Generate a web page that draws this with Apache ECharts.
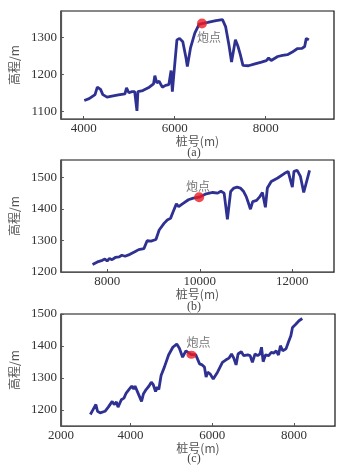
<!DOCTYPE html>
<html>
<head>
<meta charset="utf-8">
<script src="https://cdn.jsdelivr.net/npm/echarts@6/dist/echarts.min.js"></script>
<style>
  html, body { margin: 0; padding: 0; background: #fff; }
  #chart { width: 353px; height: 476px; }
</style>
</head>
<body>
<div id="chart"></div>
<script>
// (a) 桩号 / 高程
const stationA = [4014, 4121, 4250, 4300, 4371, 4421, 4514, 4621, 4764, 4907, 4942, 4992, 5064, 5121, 5171, 5192,
  5299, 5442, 5535, 5564, 5607, 5657, 5728, 5799, 5871, 5921, 5949, 5978, 6049, 6106, 6178, 6249, 6278, 6349,
  6442, 6535, 6599, 6728, 6906, 7049, 7120, 7192, 7249, 7334, 7392, 7442, 7499, 7620, 7763, 7906, 8013, 8063,
  8120, 8263, 8370, 8477, 8584, 8691, 8798, 8855, 8891, 8948];
const elevA = [1130, 1135, 1146, 1166, 1160, 1146, 1139, 1142, 1145, 1148, 1164, 1151, 1154, 1154, 1102, 1154,
  1157, 1166, 1175, 1197, 1178, 1182, 1166, 1171, 1173, 1211, 1154, 1196, 1294, 1298, 1289, 1245, 1222, 1273,
  1312, 1336, 1338, 1341, 1346, 1349, 1329, 1280, 1234, 1294, 1276, 1254, 1225, 1224, 1229, 1234, 1238, 1245,
  1238, 1249, 1252, 1254, 1261, 1270, 1271, 1276, 1298, 1294];
const shotA = [6599, 1338];

// (b)
const stationB = [7684, 7789, 7895, 7951, 8000, 8049, 8105, 8175, 8260, 8316, 8386, 8491, 8597, 8681, 8793, 8863,
  8947, 9053, 9123, 9228, 9298, 9368, 9425, 9495, 9544, 9649, 9755, 9860, 9986, 10140, 10281, 10386, 10456,
  10526, 10597, 10667, 10737, 10807, 10877, 10948, 11004, 11053, 11095, 11144, 11228, 11298, 11354, 11418,
  11460, 11544, 11684, 11825, 11909, 11951, 12000, 12035, 12105, 12175, 12246, 12372];
const elevB = [1224, 1232, 1237, 1241, 1235, 1243, 1239, 1246, 1248, 1253, 1250, 1256, 1264, 1271, 1274, 1299,
  1298, 1303, 1333, 1354, 1365, 1370, 1391, 1416, 1407, 1418, 1429, 1434, 1437, 1448, 1452, 1450, 1456,
  1450, 1367, 1455, 1466, 1469, 1466, 1455, 1439, 1418, 1399, 1423, 1427, 1439, 1452, 1405,
  1466, 1487, 1498, 1512, 1519, 1514, 1469, 1519, 1522, 1503, 1452, 1522];
const shotB = [9986, 1437];

// (c)
const stationC = [3020, 3076, 3123, 3155, 3195, 3259, 3378, 3458, 3554, 3602, 3657, 3697, 3777, 3841, 3896, 3976,
  4032, 4080, 4112, 4175, 4215, 4271, 4319, 4383, 4454, 4510, 4558, 4614, 4654, 4693, 4749, 4829, 4932, 5036,
  5132, 5196, 5275, 5355, 5490, 5594, 5690, 5753, 5809, 5849, 5889, 5945, 6024, 6128, 6248, 6327, 6407, 6471,
  6526, 6582, 6630, 6710, 6766, 6805, 6869, 6925, 6981, 7045, 7108, 7164, 7204, 7244, 7300, 7379, 7443, 7507,
  7563, 7618, 7666, 7722, 7802, 7865, 7921, 7961, 8041, 8120, 8200];
const elevC = [1186, 1199, 1194, 1217, 1196, 1191, 1196, 1209, 1227, 1217, 1225, 1209, 1232, 1237, 1253, 1266,
  1275, 1266, 1275, 1256, 1258, 1227, 1251, 1264, 1275, 1287, 1279, 1258, 1272, 1264, 1308, 1334, 1372, 1396,
  1406, 1393, 1365, 1385, 1373, 1373, 1344, 1341, 1334, 1303, 1318, 1313, 1297, 1318, 1349, 1356, 1362, 1375,
  1362, 1341, 1375, 1382, 1370, 1375, 1372, 1370, 1349, 1375, 1370, 1375, 1396, 1351, 1372, 1370, 1380, 1378,
  1385, 1372, 1401, 1385, 1391, 1413, 1432, 1458, 1468, 1479, 1486];
const shotC = [5490, 1373];

const xTicksA = [4000, 6000, 8000];
const yTicksA = [1100, 1200, 1300];
const xTicksB = [8000, 10000, 12000];
const yTicksB = [1200, 1300, 1400, 1500];
const xTicksC = [4000, 6000, 8000];
const yTicksC = [1200, 1300, 1400, 1500];
const captions = ['(a)', '(b)', '(c)'];
const shotName = '炮点';
const xName = '桩号(m)';
const yName = '高程/m';

const chart = echarts.init(document.getElementById('chart'), null, { renderer: 'canvas' });

const lineColor = '#2e3192';
const numFont = { fontFamily: 'Liberation Serif', fontSize: 13, color: '#333' };
const cjkFont = { fontFamily: 'Noto Sans CJK SC', fontSize: 12, color: '#555' };

const grids = [
  { left: 54, top: 11, width: 280, height: 108 },
  { left: 54, top: 160, width: 280, height: 112 },
  { left: 55, top: 314, width: 280, height: 112 }
];

function xAxisOf(i, min, max, ticks, labels) {
  return {
    type: 'value', gridIndex: i, min: min, max: max,
    name: xName, nameLocation: 'middle', nameGap: 14,
    nameTextStyle: cjkFont,
    axisLine: { lineStyle: { color: '#555', width: 1.2 } },
    axisTick: { inside: true, length: 3, customValues: ticks, lineStyle: { color: '#555' } },
    axisLabel: Object.assign({ margin: 3, customValues: labels || ticks, formatter: v => String(v) }, numFont),
    splitLine: { show: false }
  };
}

function yAxisOf(i, min, max, ticks) {
  return {
    type: 'value', gridIndex: i, min: min, max: max,
    name: yName, nameLocation: 'middle', nameGap: 31, nameRotate: 90,
    nameTextStyle: cjkFont,
    axisLine: { show: true, lineStyle: { color: '#555', width: 1.2 } },
    axisTick: { show: true, inside: true, length: 3, customValues: ticks, lineStyle: { color: '#555' } },
    axisLabel: Object.assign({ margin: 4, customValues: ticks, formatter: v => String(v) }, numFont),
    splitLine: { show: false }
  };
}

function zip(xs, ys) {
  return xs.map((x, k) => [x, ys[k]]);
}

const xC = xAxisOf(2, 2300, 9000, xTicksC, [2300].concat(xTicksC));
// the leftmost label of (c) is printed as 2000 at the frame edge
xC.axisLabel.formatter = v => (v < 3000 ? '2000' : String(v));

const lines = [zip(stationA, elevA), zip(stationB, elevB), zip(stationC, elevC)];
const shots = [shotA, shotB, shotC];
const shotOffsets = [[7, 14], [-1, -11], [7, -12]];
const shotSizes = [10, 10, [10, 8]];

const series = [];
lines.forEach((d, i) => {
  series.push({
    type: 'line', xAxisIndex: i, yAxisIndex: i, data: d,
    showSymbol: false, lineStyle: { color: lineColor, width: 2.8 }, z: 2
  });
});
shots.forEach((p, i) => {
  series.push({
    type: 'scatter', xAxisIndex: i, yAxisIndex: i, data: [p],
    symbol: 'circle', symbolSize: shotSizes[i],
    itemStyle: { color: '#ec1c24' }, z: 3,
    label: Object.assign({ show: true, position: 'inside', offset: shotOffsets[i], formatter: shotName }, cjkFont)
  });
});

const captionY = [153, 307, 459];
const option = {
  animation: false,
  backgroundColor: '#fff',
  grid: grids.map(g => Object.assign({ show: true, borderColor: '#111', borderWidth: 1.2 }, g)),
  xAxis: [
    xAxisOf(0, 3500, 9500, xTicksA),
    xAxisOf(1, 7000, 12900, xTicksB),
    xC
  ],
  yAxis: [
    yAxisOf(0, 1080, 1372, yTicksA),
    yAxisOf(1, 1200, 1555, yTicksB),
    yAxisOf(2, 1150, 1500, yTicksC)
  ],
  graphic: captions.map((c, i) => ({
    type: 'text', x: 194, y: captionY[i],
    style: { text: c, font: '12px "Liberation Serif"', fill: '#444', textAlign: 'center', textVerticalAlign: 'middle' }
  })),
  series: series
};

chart.setOption(option);
</script>
</body>
</html>
